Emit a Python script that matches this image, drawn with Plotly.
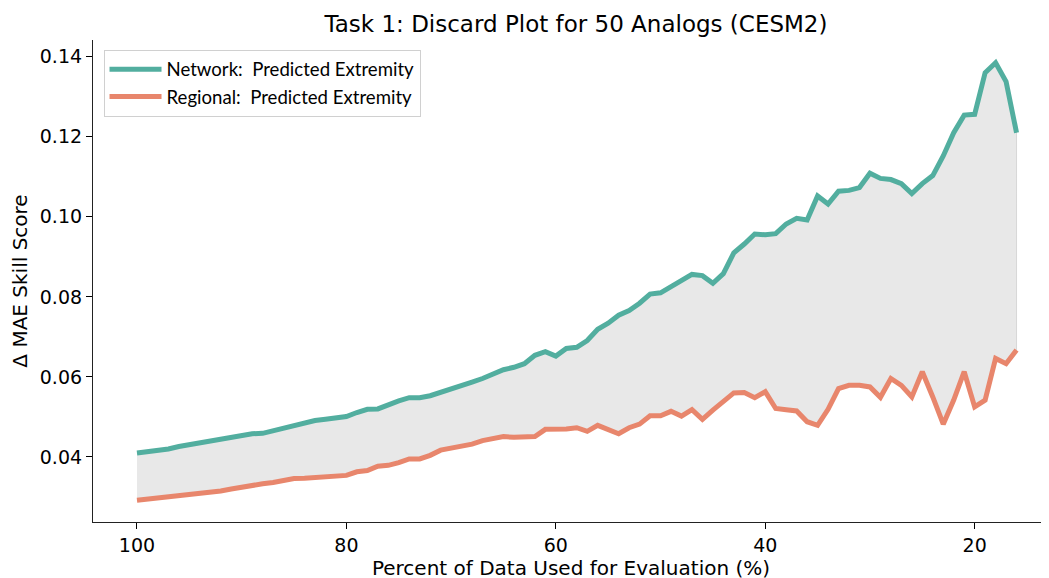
import plotly.graph_objects as go

percent = list(range(100, 15, -1))

network = [
    0.0410, 0.0413, 0.0417, 0.0420, 0.0426, 0.0431, 0.0435, 0.0440, 0.0444, 0.0449,
    0.0454, 0.0458, 0.0459, 0.0466, 0.0473, 0.0479, 0.0484, 0.0491, 0.0494, 0.0496,
    0.0501, 0.0511, 0.0519, 0.0520, 0.0531, 0.0540, 0.0548, 0.0548, 0.0553, 0.0561,
    0.0568, 0.0576, 0.0587, 0.0596, 0.0607, 0.0618, 0.0624, 0.0633, 0.0654, 0.0663,
    0.0652, 0.0671, 0.0674, 0.0691, 0.0719, 0.0734, 0.0754, 0.0766, 0.0784, 0.0807,
    0.0810, 0.0826, 0.0841, 0.0856, 0.0853, 0.0834, 0.0858, 0.0910, 0.0932, 0.0957,
    0.0955, 0.0958, 0.0982, 0.0996, 0.0992, 0.1052, 0.1032, 0.1064, 0.1066, 0.1073,
    0.1109, 0.1096, 0.1093, 0.1083, 0.1058, 0.1083, 0.1103, 0.1152, 0.1210, 0.1254,
    0.1256, 0.1360, 0.1385, 0.1338, 0.1210,
]

regional = [
    0.0292, 0.0295, 0.0297, 0.0299, 0.0302, 0.0305, 0.0307, 0.0311, 0.0315, 0.0320,
    0.0325, 0.0329, 0.0333, 0.0336, 0.0341, 0.0346, 0.0347, 0.0348, 0.0351, 0.0353,
    0.0354, 0.0363, 0.0366, 0.0377, 0.0379, 0.0386, 0.0395, 0.0395, 0.0404, 0.0417,
    0.0421, 0.0425, 0.0432, 0.0441, 0.0446, 0.0451, 0.0449, 0.0449, 0.0451, 0.0469,
    0.0468, 0.0470, 0.0473, 0.0464, 0.0479, 0.0467, 0.0458, 0.0473, 0.0482, 0.0503,
    0.0503, 0.0514, 0.0502, 0.0518, 0.0494, 0.0517, 0.0540, 0.0560, 0.0561, 0.0548,
    0.0563, 0.0521, 0.0518, 0.0515, 0.0488, 0.0479, 0.0519, 0.0571, 0.0579, 0.0579,
    0.0575, 0.0549, 0.0596, 0.0579, 0.0550, 0.0613, 0.0550, 0.0482, 0.0542, 0.0613,
    0.0525, 0.0542, 0.0646, 0.0633, 0.0667,
]

x_ticks = [100, 80, 60, 40, 20]

teal = "#52ae9f"
salmon = "#e8866c"

fig = go.Figure()

# shaded band between the two curves
fig.add_trace(go.Scatter(
    x=percent + percent[::-1],
    y=network + regional[::-1],
    fill="toself",
    fillcolor="rgba(200,200,200,0.42)",
    line=dict(color="rgba(190,190,190,0.5)", width=1),
    mode="lines",
    hoverinfo="skip",
    showlegend=False,
))

fig.add_trace(go.Scatter(
    x=percent, y=network, mode="lines",
    name="Network:  Predicted Extremity",
    line=dict(color=teal, width=5),
))
fig.add_trace(go.Scatter(
    x=percent, y=regional, mode="lines",
    name="Regional:  Predicted Extremity",
    line=dict(color=salmon, width=5),
))

axis_font = dict(family="DejaVu Sans", size=19, color="black")
label_font = dict(family="DejaVu Sans", size=20, color="black")

# the page body adds an 8px offset, margins are compensated for it
fig.update_layout(
    width=1049, height=578,
    margin=dict(l=85, r=8, t=32, b=64),
    paper_bgcolor="white",
    plot_bgcolor="white",
    title=dict(
        text="Task 1: Discard Plot for 50 Analogs (CESM2)",
        x=568 / 1049, xref="container", xanchor="center",
        y=0.972, yref="container", yanchor="middle",
        font=dict(family="DejaVu Sans", size=23, color="black"),
    ),
    legend=dict(
        x=0.011, y=0.98, xanchor="left", yanchor="top",
        bgcolor="white", bordercolor="#d0d0d0", borderwidth=1,
        font=dict(family="Lato", size=18.6, color="black"),
        itemwidth=52,
        tracegroupgap=2,
    ),
    xaxis=dict(
        range=[104.2, 12.9],
        tickvals=x_ticks,
        automargin=False,
        ticks="outside", ticklen=6, tickwidth=1, tickcolor="black",
        showline=True, linecolor="#222222", linewidth=1.2,
        showgrid=False, zeroline=False,
        tickfont=axis_font,
        title=dict(text="Percent of Data Used for Evaluation (%)",
                   font=label_font, standoff=0),
    ),
    yaxis=dict(
        range=[0.02375, 0.14417],
        dtick=0.02, tick0=0.04, tickformat=".2f",
        automargin=False,
        ticks="outside", ticklen=6, tickwidth=1, tickcolor="black",
        showline=True, linecolor="#222222", linewidth=1.2,
        showgrid=False, zeroline=False,
        tickfont=axis_font,
        title=dict(text="Δ MAE Skill Score", font=label_font, standoff=6),
    ),
)

fig.write_html("out.html")
